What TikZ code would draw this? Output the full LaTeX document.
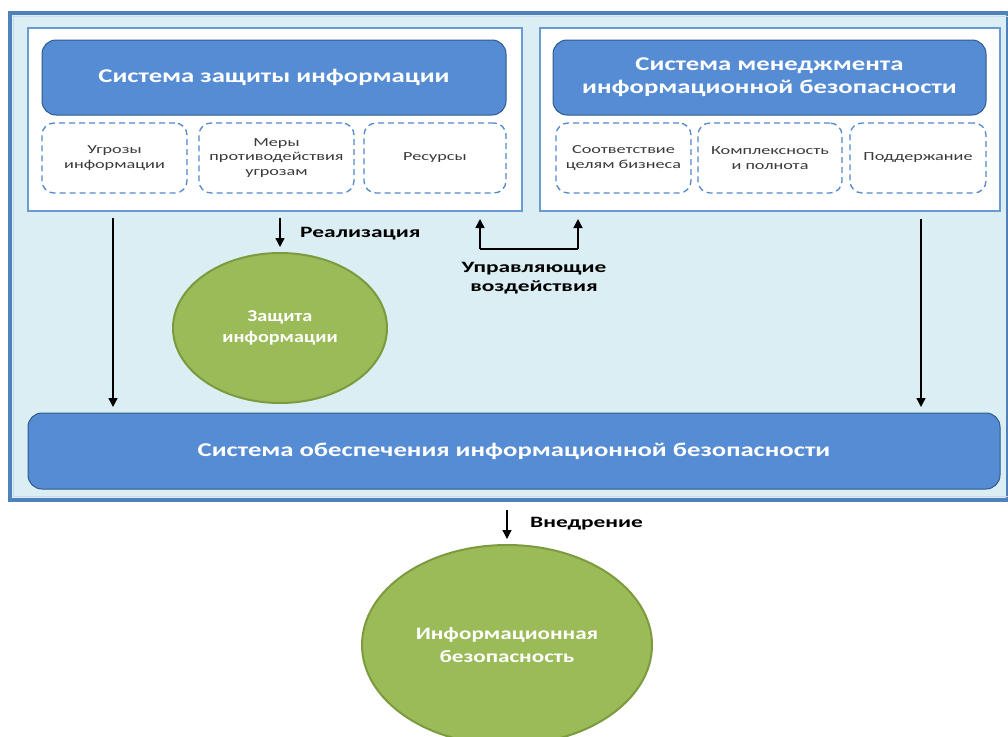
\documentclass[tikz,border=0pt]{standalone}
\usepackage{fontspec}
\setmainfont[FakeStretch=1.22]{Carlito}
\newfontfamily\fhead[FakeStretch=1.37]{Carlito}
\newfontfamily\fsmall[FakeStretch=1.48]{Carlito}
\newfontfamily\flbl[FakeStretch=1.48]{Carlito}
\newfontfamily\fbig[FakeStretch=1.32]{Carlito}
\usetikzlibrary{arrows.meta,shapes.geometric,calc}
\definecolor{bgblue}{HTML}{DBEEF4}
\definecolor{frameblue}{HTML}{4F81BD}
\definecolor{boxblue}{HTML}{6A9AD3}
\definecolor{headfill}{HTML}{558CD3}
\definecolor{headdraw}{HTML}{2F5B8C}
\definecolor{greenfill}{HTML}{9BBB59}
\definecolor{greendraw}{HTML}{7C9A3E}
\definecolor{dashblue}{HTML}{5289CC}
\definecolor{smalltext}{HTML}{3A3A3A}
\tikzset{
  whitebox/.style={draw=boxblue,line width=2.5pt,fill=white,rectangle,inner sep=0pt},
  header/.style={draw=headdraw,line width=1pt,fill=headfill,rounded corners=14pt,inner sep=0pt,
    text=white,font=\fhead\fontsize{19.5}{23}\selectfont\bfseries,align=center},
  dashbox/.style={draw=dashblue,line width=1.3pt,dash pattern=on 6pt off 4pt,rounded corners=12pt,
    fill=white,inner sep=0pt,text=smalltext,font=\fsmall\fontsize{12.3}{14.5}\selectfont,align=center},
  greenell/.style={ellipse,draw=greendraw,line width=2pt,fill=greenfill,inner sep=0pt,
    text=white,align=center},
  arr/.style={line width=1.4pt,-{Triangle[width=9pt,length=9pt]}},
  lbl/.style={font=\flbl\fontsize{15.8}{19}\selectfont\bfseries,inner sep=0pt,align=center}
}
\begin{document}
\begin{tikzpicture}[x=1pt,y=-1pt]
\useasboundingbox (0,0) rectangle (1008,736);
\clip (0,0) rectangle (1008,736);
% outer frame
\node[draw=frameblue,line width=3.5pt,fill=bgblue,rectangle,inner sep=0pt,
  minimum width=998pt,minimum height=487pt] (outer) at (509,256.5) {};
\draw[white!70!frameblue,line width=0.8pt] (13.5,16.5) rectangle (1010,496.5);
% white boxes
\node[whitebox,minimum width=494pt,minimum height=183pt] (lbox) at (275,119.5) {};
\node[whitebox,minimum width=460pt,minimum height=183pt] (rbox) at (770,119.5) {};
% headers
\node[header,minimum width=464pt,minimum height=75pt] (lhead) at (274,77.5) {Система защиты информации};
\node[header,minimum width=433pt,minimum height=75pt] (rhead) at (769.5,77.5) {Система менеджмента\\информационной безопасности};
% dashed boxes
\node[dashbox,minimum width=145pt,minimum height=70pt] (d1) at (114.5,158) {Угрозы\\информации};
\node[dashbox,minimum width=155pt,minimum height=70pt] (d2) at (276.5,158) {Меры\\противодействия\\угрозам};
\node[dashbox,minimum width=142pt,minimum height=70pt] (d3) at (435,158) {Ресурсы};
\node[dashbox,minimum width=135pt,minimum height=70pt] (d4) at (623.5,158) {Соответствие\\целям бизнеса};
\node[dashbox,minimum width=144pt,minimum height=70pt] (d5) at (770,158) {Комплексность\\и полнота};
\node[dashbox,minimum width=136pt,minimum height=70pt] (d6) at (918,158) {Поддержание};
% bottom bar
\node[header,minimum width=972pt,minimum height=76pt] (bar) at (514,451) {Система обеспечения информационной безопасности};
% ellipses
\node[greenell,minimum width=214pt,minimum height=150pt,font=\fontsize{16.5}{21}\selectfont\bfseries] (zi) at (280,328) {Защита\\информации};
\node[greenell,minimum width=290pt,minimum height=200pt,font=\fbig\fontsize{17.5}{23}\selectfont\bfseries] (ib) at (507,645) {Информационная\\безопасность};
% coordinates
\coordinate (a1s) at (113,218);
\coordinate (a1e) at (113,407);
\coordinate (a2s) at (921,219);
\coordinate (a2e) at (921,407);
\coordinate (r1) at (280,218);
\coordinate (r2) at (280,247);
\coordinate (c1) at (480,249);
\coordinate (c1t) at (480,219);
\coordinate (c2) at (578,249);
\coordinate (c2t) at (578,219);
\coordinate (v1) at (507,510);
\coordinate (v2) at (507,539);
% arrows
\draw[arr] (a1s) -- (a1e);
\draw[arr] (a2s) -- (a2e);
\draw[arr] (r1) -- (r2);
\draw[line width=1.4pt] (c1) -- (c2);
\draw[arr] (c1) -- (c1t);
\draw[arr] (c2) -- (c2t);
\draw[arr] (v1) -- (v2);
% labels
\node[lbl,anchor=west] (lreal) at (300,234) {Реализация};
\node[lbl] (lupr) at (534,278) {Управляющие\\воздействия};
\node[lbl,anchor=west] (lvn) at (530,524) {Внедрение};
\end{tikzpicture}
\end{document}
